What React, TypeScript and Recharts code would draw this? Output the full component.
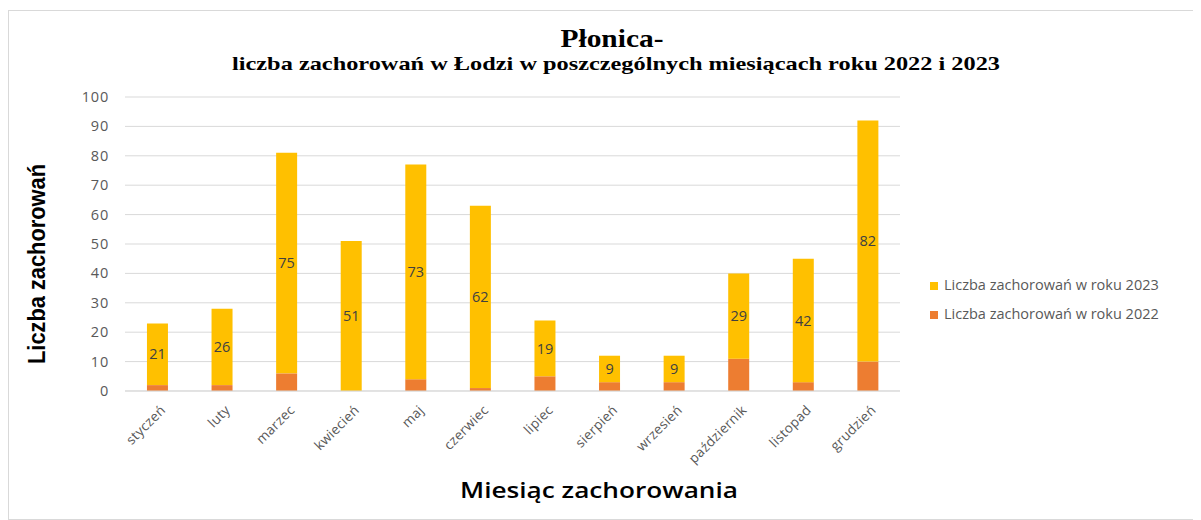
import React from "react";
import { BarChart, Bar, XAxis, YAxis, CartesianGrid, LabelList } from "recharts";

const months = ["styczeń", "luty", "marzec", "kwiecień", "maj", "czerwiec", "lipiec", "sierpień", "wrzesień", "październik", "listopad", "grudzień"];
const cases2022 = [2, 2, 6, 0, 4, 1, 5, 3, 3, 11, 3, 10];
const cases2023 = [21, 26, 75, 51, 73, 62, 19, 9, 9, 29, 42, 82];
const yTicks = [0, 10, 20, 30, 40, 50, 60, 70, 80, 90, 100];
const legendLabels = ["Liczba zachorowań w roku 2023", "Liczba zachorowań w roku 2022"];

const data = months.map((m, i) => ({ month: m, y2022: cases2022[i], y2023: cases2023[i] }));

const C2023 = "#FFC000";
const C2022 = "#ED7D31";
const sans = "'Open Sans', 'Liberation Sans', sans-serif";

const XTick = (props: any) => {
  const { x, y, payload } = props;
  return (
    <text
      x={x + 9}
      y={y + 12}
      transform={`rotate(-45, ${x + 9}, ${y + 12})`}
      textAnchor="end"
      fontSize={13.5}
      fontFamily={sans}
      fill="#595959"
      letterSpacing={0.3}
    >
      {payload.value}
    </text>
  );
};

const YTick = (props: any) => {
  const { x, y, payload } = props;
  return (
    <text
      x={x}
      y={y}
      dy={5}
      textAnchor="end"
      fontSize={14.5}
      fontFamily={sans}
      fill="#595959"
      letterSpacing={0.8}
    >
      {payload.value}
    </text>
  );
};

export default function App() {
  const legendColors = [C2023, C2022];
  return (
    <div
      style={{
        position: "relative",
        width: 1191,
        height: 508,
        marginTop: 2,
        border: "1px solid #d9d9d9",
        background: "#fff",
      }}
    >
      <BarChart
        width={1191}
        height={508}
        data={data}
        margin={{ top: 86, right: 300, bottom: 40, left: 56 }}
        barCategoryGap="34%"
      >
        <CartesianGrid vertical={false} stroke="#d9d9d9" />
        <XAxis
          dataKey="month"
          tick={<XTick />}
          tickLine={false}
          axisLine={{ stroke: "#d9d9d9" }}
          interval={0}
          height={88}
        />
        <YAxis
          domain={[0, 100]}
          ticks={yTicks}
          tickLine={false}
          axisLine={false}
          width={60}
          tick={<YTick />}
          tickMargin={10}
        />
        <Bar dataKey="y2022" stackId="a" fill={C2022} isAnimationActive={false} />
        <Bar dataKey="y2023" stackId="a" fill={C2023} isAnimationActive={false}>
          <LabelList dataKey="y2023" position="center" fill="#404040" fontSize={14.5} fontFamily={sans} />
        </Bar>
      </BarChart>
      <div
        style={{
          position: "absolute",
          left: 921,
          top: 259,
          fontFamily: sans,
          fontSize: 14.5,
          color: "#595959",
          whiteSpace: "nowrap",
        }}
      >
        {legendLabels.map((t, i) => (
          <div key={t} style={{ display: "flex", alignItems: "center", height: 29 }}>
            <span
              style={{
                display: "inline-block",
                width: 8,
                height: 8,
                background: legendColors[i],
                marginRight: 6,
                marginTop: 3,
              }}
            />
            <span>{t}</span>
          </div>
        ))}
      </div>
      <svg
        width={1191}
        height={508}
        style={{ position: "absolute", left: 0, top: 0, pointerEvents: "none" }}
      >
        <text
          x={603}
          y={36}
          textAnchor="middle"
          fontFamily="'Liberation Serif', serif"
          fontWeight="bold"
          fontSize={25}
          textLength={103}
          lengthAdjust="spacingAndGlyphs"
          fill="#000"
        >
          Płonica-
        </text>
        <text
          x={607}
          y={59}
          textAnchor="middle"
          fontFamily="'Liberation Serif', serif"
          fontWeight="bold"
          fontSize={19}
          textLength={768}
          lengthAdjust="spacingAndGlyphs"
          fill="#000"
        >
          liczba zachorowań w Łodzi w poszczególnych miesiącach roku 2022 i 2023
        </text>
        <text
          x={0}
          y={0}
          transform="translate(36, 253) rotate(-90)"
          textAnchor="middle"
          fontFamily="'Liberation Sans', sans-serif"
          fontWeight="bold"
          fontSize={23}
          textLength={200}
          lengthAdjust="spacingAndGlyphs"
          fill="#000"
        >
          Liczba zachorowań
        </text>
        <text
          x={590}
          y={487}
          textAnchor="middle"
          fontFamily={sans}
          fontWeight={600}
          fontSize={22}
          textLength={278}
          lengthAdjust="spacingAndGlyphs"
          fill="#000"
        >
          Miesiąc zachorowania
        </text>
      </svg>
    </div>
  );
}
